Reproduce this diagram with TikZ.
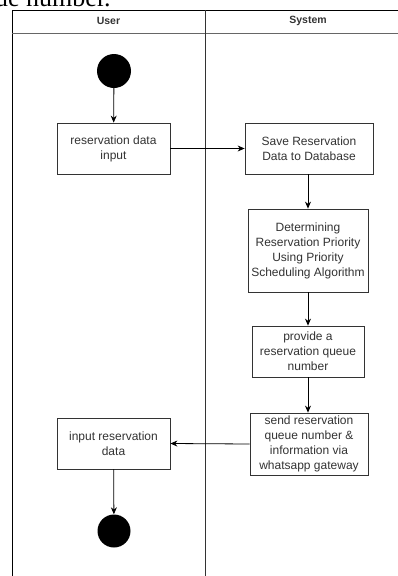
\documentclass[tikz,border=0pt]{standalone}
\usepackage{fontspec}
\setmainfont{Liberation Sans}
\newfontfamily\serifdoc{Liberation Serif}
\usetikzlibrary{arrows.meta}
\begin{document}
\begin{tikzpicture}[x=1pt,y=-1pt,
  act/.style={draw=black!80, line width=0.8pt, fill=white, align=center,
    font=\fontsize{12}{15}\selectfont, text=black!80, inner sep=0pt},
  flow/.style={-{Stealth[length=7pt,width=6pt]}, line width=0.8pt, black},
  dot/.style={circle, fill=black, draw=none, inner sep=0pt},
  lane/.style={line width=1pt, black},
  head/.style={font=\bfseries\fontsize{10.5}{12}\selectfont, text=black!80, inner sep=0pt}]
\useasboundingbox (0,0) rectangle (398,576);
\clip (0,0) rectangle (398,576);
% cropped fragment of surrounding page text
\node[anchor=base west, inner sep=0pt, font=\serifdoc\fontsize{26}{26}\selectfont] (frag) at (-5,6) {ue number.};
% swimlanes
\draw[lane] (12,600) -- (12,10) -- (420,10);
\draw[line width=1pt, black!60] (12,33) -- (420,33);
\draw[line width=0.8pt, black!80] (205,10) -- (205,600);
\node[head] (hu) at (108.5,21) {User};
\node[head] (hs) at (308,21) {System};
% nodes
\node[dot, minimum size=34pt] (start) at (114,71) {};
\node[act, minimum width=113pt, minimum height=51pt] (in1) at (113.5,148.5) {reservation data\\input};
\node[act, minimum width=128pt, minimum height=51pt] (save) at (309,148.5) {Save Reservation\\Data to Database};
\node[act, minimum width=120pt, minimum height=83pt] (det) at (308,250.5) {Determining\\Reservation Priority\\Using Priority\\Scheduling Algorithm};
\node[act, minimum width=112pt, minimum height=51pt] (prov) at (308,351.5) {provide a\\reservation queue\\number};
\node[act, minimum width=118pt, minimum height=62pt] (send) at (309,444) {send reservation\\queue number \&\\information via\\whatsapp gateway};
\node[act, minimum width=113pt, minimum height=51pt] (in2) at (113.5,443.5) {input reservation\\data};
\node[dot, minimum size=33pt] (end) at (114,531) {};
% connectors
\draw[flow] (start) -- (in1);
\draw[flow] (in1.east) -- (save.west);
\draw[flow] (det.north |- save.south) -- (det.north);
\draw[flow] (det) -- (prov);
\draw[flow] (prov.south) -- (prov.south |- send.north);
\draw[flow] (send.west) -- (in2.east);
\draw[flow] (in2) -- (end);
\end{tikzpicture}
\end{document}
